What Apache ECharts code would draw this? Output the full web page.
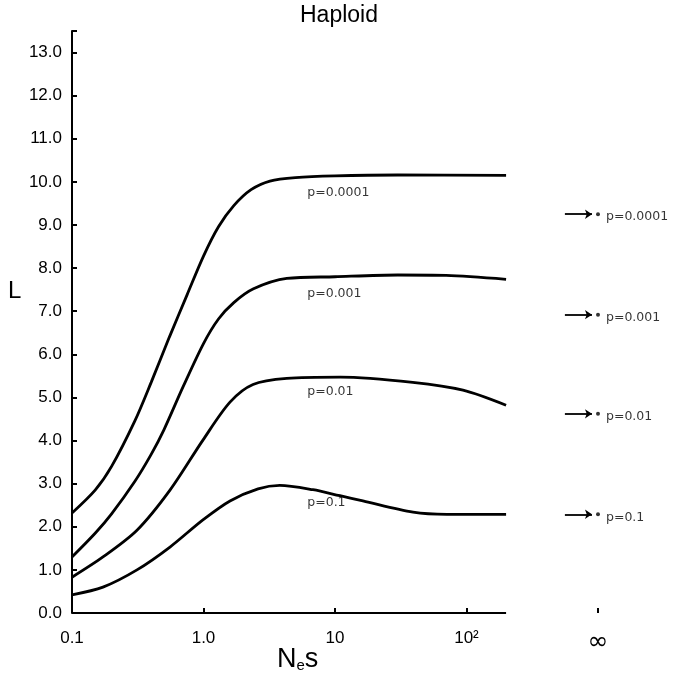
<!DOCTYPE html>
<html>
<head>
<meta charset="utf-8">
<script src="https://cdn.jsdelivr.net/npm/echarts@6/dist/echarts.min.js"></script>
<style>
html,body{margin:0;padding:0;background:#fff;}
#chart{width:673px;height:680px;}
</style>
</head>
<body>
<div id="chart"></div>
<script>
// ---- data (Ns, L) ----
const curveP0001 = [[0.1,2.32],[0.15,2.85],[0.2,3.40],[0.3,4.45],[0.4,5.35],[0.55,6.40],[0.75,7.38],[1.0,8.28],[1.3,8.96],[1.7,9.45],[2.3,9.82],[3.2,10.02],[5,10.10],[10,10.14],[30,10.16],[200,10.15]];
const curveP001  = [[0.1,1.30],[0.15,1.85],[0.2,2.30],[0.3,3.05],[0.4,3.68],[0.5,4.25],[0.7,5.25],[1.0,6.25],[1.3,6.82],[1.7,7.20],[2.4,7.52],[4.3,7.76],[10,7.80],[30,7.84],[70,7.83],[200,7.74]];
const curveP01   = [[0.1,0.83],[0.172,1.30],[0.312,1.92],[0.556,2.85],[0.99,4.01],[1.59,4.89],[2.38,5.30],[4.3,5.44],[11,5.47],[39,5.35],[94,5.17],[200,4.82]];
const curveP1    = [[0.1,0.42],[0.172,0.60],[0.312,1.0],[0.556,1.53],[0.99,2.16],[1.59,2.60],[2.6,2.88],[3.8,2.96],[6.8,2.86],[10.9,2.72],[16.3,2.60],[39.2,2.34],[71,2.29],[200,2.29]];
const curveNames = ['p=0.0001','p=0.001','p=0.01','p=0.1'];
// labels placed under each curve: [Ns, L, text]
const curveLabels = [[6.1,9.74,'p=0.0001'],[6.1,7.40,'p=0.001'],[6.1,5.13,'p=0.01'],[6.1,2.55,'p=0.1']];
// limits at Ns = infinity (drawn at the 10^3 position)
const infX = 1000;
const infValues = [9.25, 6.92, 4.62, 2.29];
const arrowFrom = 560, arrowTo = 900;
const xAxisEnd = [[0.1,0],[200,0]];
const yTicks = [0,1,2,3,4,5,6,7,8,9,10,11,12,13];
const xTickLabels = {'-1':'0.1','0':'1.0','1':'10','2':'10²','3':'{inf|∞}'};

const chart = echarts.init(document.getElementById('chart'), null, {renderer:'canvas'});
const black = '#000';
const curveStyle = {type:'line', smooth:0.3, symbol:'none', clip:false, silent:true,
  lineStyle:{color:black, width:2.8}};

const option = {
  animation:false,
  backgroundColor:'#fff',
  title:{text:'Haploid', left:300, top:4, padding:0,
    textStyle:{fontFamily:'Liberation Sans', fontSize:23, fontWeight:'normal', color:black}},
  grid:{left:72, right:75, top:31, bottom:67},
  xAxis:{type:'log', min:0.1, max:1000, logBase:10,
    axisLine:{show:false},
    axisTick:{show:true, inside:true, length:5, lineStyle:{color:black, width:2}},
    splitLine:{show:false},
    axisLabel:{margin:17, fontFamily:'Liberation Sans', fontSize:17, color:black,
      formatter:function(v){const k=String(Math.round(Math.log10(v))); return xTickLabels[k]!==undefined?xTickLabels[k]:'';},
      rich:{inf:{fontFamily:'DejaVu Sans', fontSize:25, color:black}}}
  },
  yAxis:{type:'value', min:0, max:13.5, interval:1,
    axisLine:{show:true, lineStyle:{color:black, width:2}},
    axisTick:{show:true, inside:true, length:5, lineStyle:{color:black, width:2}},
    splitLine:{show:false},
    axisLabel:{margin:10, fontFamily:'Liberation Sans', fontSize:17, color:black,
      formatter:function(v){return yTicks.indexOf(v)>=0 ? v.toFixed(1) : '';}}
  },
  graphic:[
    {type:'text', left:8, top:279, style:{text:'L', fontFamily:'Liberation Sans', fontSize:24, fill:black}},
    {type:'text', left:277, top:646, style:{text:'{n|N}{e|e}{n|s}', fill:black,
      rich:{n:{fontFamily:'Liberation Sans', fontSize:27, color:black, lineHeight:30, verticalAlign:'bottom'},
            e:{fontFamily:'Liberation Sans', fontSize:15, color:black, padding:[12,0,0,0], verticalAlign:'bottom'}}}}
  ],
  series:[
    Object.assign({name:curveNames[0], data:curveP0001}, curveStyle),
    Object.assign({name:curveNames[1], data:curveP001}, curveStyle),
    Object.assign({name:curveNames[2], data:curveP01}, curveStyle),
    Object.assign({name:curveNames[3], data:curveP1}, curveStyle),
    {type:'line', data:xAxisEnd, symbol:'none', clip:false, silent:true, lineStyle:{color:black, width:2}},
    {type:'scatter', data:curveLabels, symbolSize:1, itemStyle:{color:'rgba(0,0,0,0)'}, silent:true, clip:false,
      label:{show:true, position:'right', distance:0, fontFamily:'DejaVu Sans', fontSize:12.5, color:black,
        formatter:function(p){return p.value[2];}}},
    {type:'scatter', data:infValues.map(function(v,i){return [infX, v, curveNames[i]];}), symbolSize:4, clip:false, silent:true,
      itemStyle:{color:black},
      label:{show:true, position:'right', distance:6, offset:[0,3], fontFamily:'DejaVu Sans', fontSize:12.5, color:black,
        formatter:function(p){return p.value[2];}},
      markLine:{silent:true, symbol:['none','arrow'], symbolSize:7, label:{show:false},
        lineStyle:{color:black, width:1.8, type:'solid'},
        data:infValues.map(function(v){return [{coord:[arrowFrom, v]},{coord:[arrowTo, v]}];})}}
  ]
};
chart.setOption(option);
</script>
</body>
</html>
